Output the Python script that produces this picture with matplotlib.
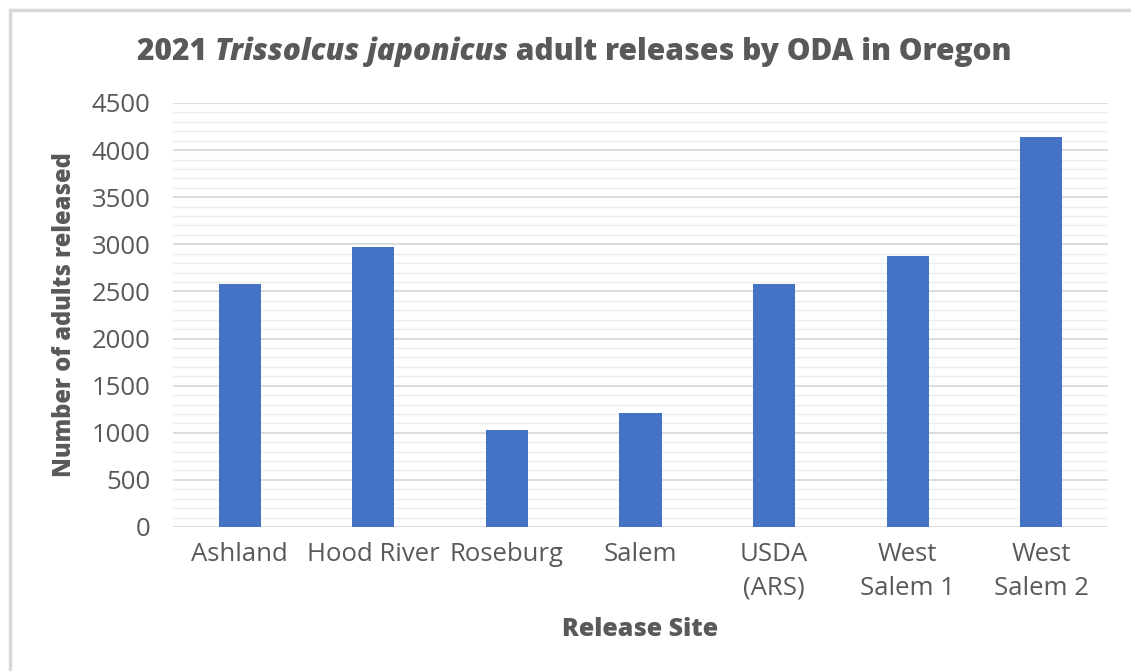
import matplotlib.pyplot as plt
import numpy as np
from matplotlib.patches import Rectangle
from matplotlib.ticker import MultipleLocator

# release counts per site, 2021
sites = ['Ashland', 'Hood River', 'Roseburg', 'Salem', 'USDA\n(ARS)', 'West\nSalem 1', 'West\nSalem 2']
adults = [2575, 2975, 1030, 1215, 2575, 2875, 4140]

bar_color = '#4472C4'
text_color = '#595959'
font = 'Open Sans'

plt.rcParams['font.family'] = font

fig = plt.figure(figsize=(11.31, 6.71), dpi=100)
W, H = 1131, 671

# light frame around the chart
fig.patches.append(Rectangle((10 / W, -0.1), 1.2, 1 - 10 / H + 0.1,
                             transform=fig.transFigure, fill=False,
                             edgecolor='#d9d9d9', linewidth=2.5))

ax = fig.add_axes([173 / W, 1 - 527 / H, (1108 - 173) / W, (527 - 103) / H])
x = np.arange(len(sites))
ax.bar(x, adults, width=0.315, color=bar_color, zorder=3)

ax.set_xlim(-0.5, len(sites) - 0.5)
ax.set_ylim(0, 4500)
ax.yaxis.set_major_locator(MultipleLocator(500))
ax.yaxis.set_minor_locator(MultipleLocator(100))
ax.grid(axis='y', which='major', color='#d9d9d9', linewidth=1.3, zorder=0)
ax.grid(axis='y', which='minor', color='#eeeeee', linewidth=1.0, zorder=0)
for s in ax.spines.values():
    s.set_visible(False)
ax.tick_params(axis='both', which='both', length=0, labelsize=18.5, labelcolor=text_color)
ax.tick_params(axis='y', pad=16)
ax.tick_params(axis='x', pad=11)
ax.set_xticks(x)
ax.set_xticklabels(sites, linespacing=1.45)

ax.set_ylabel('Number of adults released', fontsize=17, fontweight='heavy',
              color=text_color, labelpad=11)
ax.set_xlabel('Release Site', fontsize=18, fontweight='heavy',
              color=text_color, labelpad=12)

# title with the species name in italics
parts = [('2021 ', 'normal'), ('Trissolcus japonicus', 'italic'),
         (' adult releases by ODA in Oregon', 'normal')]
renderer = fig.canvas.get_renderer()
texts = []
for s, style in parts:
    t = fig.text(0, 1 - 52 / H, s, fontsize=21.5, fontweight='heavy', style=style,
                 color=text_color, va='center', ha='left')
    texts.append(t)
widths = [t.get_window_extent(renderer).width for t in texts]
xpos = 574.5 - sum(widths) / 2
for t, w in zip(texts, widths):
    t.set_x(xpos / W)
    xpos += w

fig.savefig('out.png', dpi=100)
